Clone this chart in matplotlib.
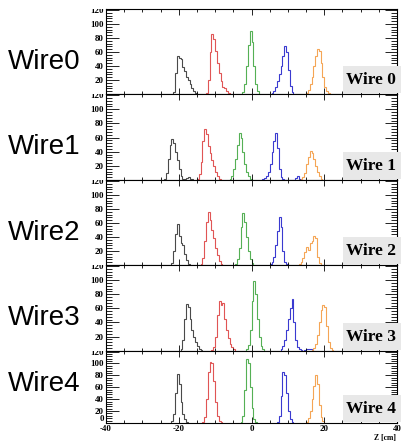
import numpy as np
import matplotlib
matplotlib.use("Agg")
import matplotlib.pyplot as plt
from matplotlib.patches import Rectangle
from matplotlib.transforms import Bbox
from matplotlib.ticker import MultipleLocator

W, H = 401, 443

wire_names = ["Wire0", "Wire1", "Wire2", "Wire3", "Wire4"]
box_labels = ["Wire 0", "Wire 1", "Wire 2", "Wire 3", "Wire 4"]
colors = ["#4a4a4a", "#e05555", "#55b055", "#3a3ad0", "#f5a555"]
bin_width = 0.5

# lower edge of the first bin of each peak, and the bin contents
wire0_starts = [-21.5, -12.5, -2.5, 5.5, 15.0]
wire0_counts = [
    [3, 30, 54, 52, 50, 38, 33, 25, 20, 14, 8, 5, 2],
    [2, 20, 60, 86, 78, 62, 45, 30, 18, 10, 8, 4, 1],
    [3, 15, 40, 70, 90, 75, 40, 15, 4],
    [2, 5, 10, 18, 28, 40, 55, 69, 60, 35, 12, 3],
    [2, 6, 14, 25, 40, 55, 65, 62, 45, 25, 10, 4, 1],
]

wire1_starts = [-24.0, -15.0, -6.0, 3.0, 13.5]
wire1_counts = [
    [2, 10, 30, 50, 58, 52, 40, 28, 15, 5, 2, 1, 3, 4, 2, 1],
    [2, 8, 25, 55, 72, 65, 48, 38, 28, 20, 12, 6, 2],
    [2, 6, 15, 30, 50, 66, 60, 40, 22, 12, 5, 2],
    [2, 3, 6, 12, 22, 40, 55, 66, 45, 15, 4, 1, 0, 0, 0, 0, 0, 0, 3, 5, 2],
    [1, 4, 10, 22, 33, 41, 38, 30, 20, 12, 6, 2],
]

wire2_starts = [-22.0, -14.0, -4.5, 5.0, 13.0]
wire2_counts = [
    [3, 20, 45, 58, 42, 31, 28, 16, 7, 2],
    [2, 10, 35, 62, 76, 65, 50, 38, 25, 15, 6, 2],
    [2, 8, 25, 55, 75, 62, 40, 20, 8, 3],
    [2, 5, 12, 28, 48, 68, 55, 20, 5, 1],
    [1, 4, 10, 18, 26, 22, 32, 35, 42, 38, 12, 3],
]

wire3_starts = [-19.5, -11.0, -1.5, 8.0, 16.5]
wire3_counts = [
    [2, 15, 45, 66, 62, 45, 30, 20, 12, 6, 3, 1],
    [1, 5, 20, 50, 70, 65, 68, 45, 30, 18, 10, 5, 2],
    [2, 8, 30, 70, 99, 80, 45, 20, 6, 2],
    [2, 6, 15, 30, 45, 60, 73, 40, 15, 5, 2, 1, 0, 1, 2, 3, 2, 1],
    [1, 4, 10, 22, 40, 58, 65, 62, 35, 12, 4, 1],
]

wire4_starts = [-22.0, -13.5, -3.0, 7.0, 15.0]
wire4_counts = [
    [3, 15, 50, 83, 65, 35, 15, 6, 2],
    [2, 10, 40, 85, 102, 100, 70, 35, 12, 4, 1],
    [2, 12, 55, 108, 100, 60, 25, 7, 2],
    [2, 12, 45, 85, 80, 50, 20, 6, 2],
    [2, 8, 20, 40, 62, 80, 65, 30, 10, 3],
]

all_starts = [wire0_starts, wire1_starts, wire2_starts, wire3_starts, wire4_starts]
all_counts = [wire0_counts, wire1_counts, wire2_counts, wire3_counts, wire4_counts]

xticks = [-40, -20, 0, 20, 40]
yticks = [0, 20, 40, 60, 80, 100, 120]

# pad geometry in pixels
left, right = 106, 397
tops = [9, 94, 180, 265, 350.7]
bottoms = [94, 180, 265, 350.7, 423]
label_y = [62, 147, 233, 318, 384]

fig = plt.figure(figsize=(W / 100, H / 100), dpi=100)
serif = "Liberation Serif"

for i in range(5):
    top, bot = tops[i], bottoms[i]
    ax = fig.add_axes([left / W, 1 - bot / H, (right - left) / W, (bot - top) / H])
    for start, counts, c in zip(all_starts[i], all_counts[i], colors):
        edges = start + bin_width * np.arange(len(counts) + 1)
        ax.stairs(counts, edges, color=c, lw=0.8)
    ax.set_xlim(-40, 40)
    ax.set_ylim(0, 121.5)
    ax.set_yticks(yticks)
    ylabels = [str(v) for v in yticks]
    if i < 4:
        ylabels[0] = ""
    ax.set_yticklabels(ylabels, fontfamily=serif, fontweight="bold", fontsize=6.4)
    ax.yaxis.set_minor_locator(MultipleLocator(4))
    ax.set_xticks(xticks)
    ax.xaxis.set_minor_locator(MultipleLocator(5))
    ax.tick_params(which="both", direction="in", top=True, right=True, width=0.6)
    ax.tick_params(axis="y", which="major", length=9, pad=1.5)
    ax.tick_params(axis="y", which="minor", length=4.5)
    ax.tick_params(axis="x", which="major", length=4)
    ax.tick_params(axis="x", which="minor", length=2)
    if i < 4:
        ax.tick_params(axis="x", labelbottom=False)
    else:
        ax.set_xticklabels([str(v) for v in xticks], fontfamily=serif,
                           fontweight="bold", fontsize=6.4)
        ax.tick_params(axis="x", pad=1.5)
        # lift the zero label off the x axis labels
        ax.get_yticklabels()[0].set_verticalalignment("bottom")
    for s in ax.spines.values():
        s.set_linewidth(0.8)

    # labels at the pad top are cut by the pad edge (box in display pixels)
    clip_bot = 0 if i == 4 else H - bot
    clip = Bbox([[0, clip_bot], [right, H - top]])
    for lab in ax.get_yticklabels():
        lab.set_clip_box(clip)
        lab.set_clip_on(True)

    # boxed pad label in the lower right corner
    fig.patches.append(Rectangle((343 / W, 1 - (bot - 1) / H), 58 / W, 27 / H,
                                 transform=fig.transFigure, facecolor="#e8e8e8",
                                 edgecolor="none", zorder=5))
    fig.text(346 / W, 1 - (bot - 14) / H, box_labels[i], fontfamily=serif,
             fontweight="bold", fontsize=12.5, va="center", ha="left", zorder=6)

    fig.text(8 / W, 1 - label_y[i] / H, wire_names[i], fontfamily="Liberation Sans",
             fontsize=20, va="center", ha="left")

fig.text(396 / W, 1 - 438 / H, "Z [cm]", fontfamily=serif, fontweight="bold",
         fontsize=5.5, ha="right", va="center")

fig.savefig("out.png", dpi=100)
